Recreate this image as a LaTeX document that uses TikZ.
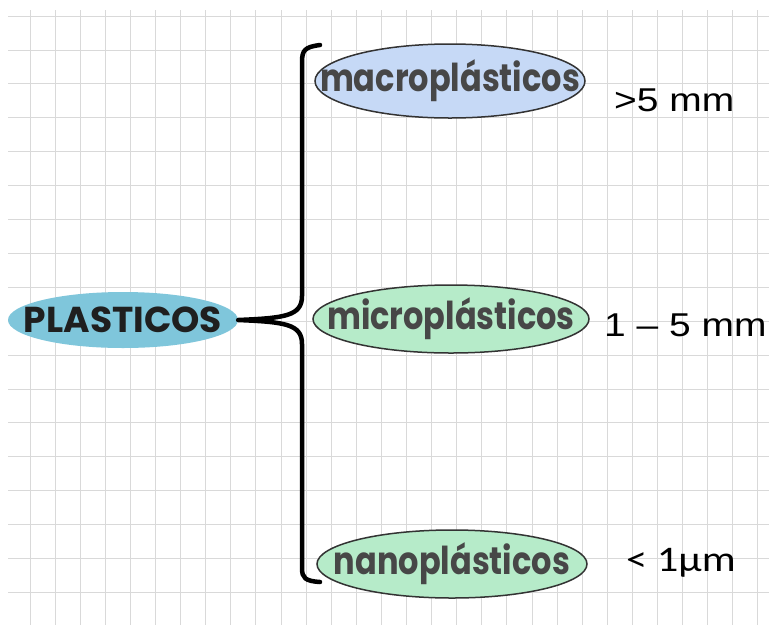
\documentclass[tikz,border=0pt]{standalone}
\usepackage{fontspec}
\setmainfont{Liberation Sans}
\newfontfamily\bubblefont{Poppins}
\newfontfamily\calfont{Carlito}
\usetikzlibrary{shapes.geometric}
\definecolor{gridgray}{HTML}{D9D9D9}
\definecolor{rootfill}{HTML}{7FC6DB}
\definecolor{macrofill}{HTML}{C6D9F6}
\definecolor{mintfill}{HTML}{B6EBC9}
\definecolor{bubbletext}{HTML}{474747}
% text set inside a bubble takes no room, so the ellipse keeps its given size
\newcommand{\bubbletxt}[2][1]{\makebox[0pt]{\scalebox{1}[#1]{#2}}}
\newcommand{\widetxt}[1]{\scalebox{1.18}[1]{#1}}
\tikzset{
  rootbubble/.style={ellipse, fill=rootfill, inner sep=0pt,
    minimum width=230pt, minimum height=56pt,
    font=\bubblefont\bfseries\fontsize{36}{36}\selectfont, text=black!88},
  kindbubble/.style={ellipse, draw=black!80, line width=1.5pt, inner sep=0pt,
    font=\bubblefont\bfseries\fontsize{32}{32}\selectfont, text=bubbletext},
  sizelabel/.style={font=\fontsize{33}{33}\selectfont, text=black, inner sep=0pt},
  bracket/.style={line width=4.5pt, black, line cap=round, line join=round}
}
\begin{document}
\begin{tikzpicture}[x=1pt, y=-1pt]
  \useasboundingbox (0,0) rectangle (769,625);
  \fill[white] (0,0) rectangle (769,625);
  % squared paper
  \begin{scope}
    \clip (8,10) rectangle (769,625);
    \foreach \i in {0,...,30} {
      \draw[gridgray, line width=1pt] ({30+25.1*\i},10) -- ({30+25.1*\i},625);
    }
    \foreach \j in {-1,...,17} {
      \draw[gridgray, line width=1pt] (8,{50+33.9*\j}) -- (769,{50+33.9*\j});
    }
  \end{scope}

  % bubbles
  \node[rootbubble] (root) at (123,320) {\bubbletxt{PLASTICOS}};
  \node[kindbubble, fill=macrofill, minimum width=270pt, minimum height=74pt] (macro) at (450,81) {\bubbletxt[1.2]{macroplásticos}};
  \node[kindbubble, fill=mintfill, minimum width=276pt, minimum height=68pt] (micro) at (451,319) {\bubbletxt[1.2]{microplásticos}};
  \node[kindbubble, fill=mintfill, minimum width=270pt, minimum height=68pt] (nano) at (452,564) {\bubbletxt[1.2]{nanoplásticos}};

  % size labels
  \node[sizelabel, anchor=west] (macrosize) at (614,100) {\widetxt{>5 mm}};
  \node[sizelabel, anchor=west] (microsize) at (604,325) {\widetxt{1 – 5 mm}};
  \node[sizelabel, anchor=west, font=\calfont\fontsize{36}{36}\selectfont] (nanosize) at (626,563) {\widetxt{< 1µm}};

  % curly bracket joining the groups
  \draw[bracket] (320,45) .. controls (305,47) and (302,50) .. (302,62)
    -- (302,296) .. controls (302,316) and (285,318) .. (root.east)
    .. controls (285,322) and (302,324) .. (302,344)
    -- (302,568) .. controls (302,578) and (305,581) .. (320,582);
\end{tikzpicture}
\end{document}
